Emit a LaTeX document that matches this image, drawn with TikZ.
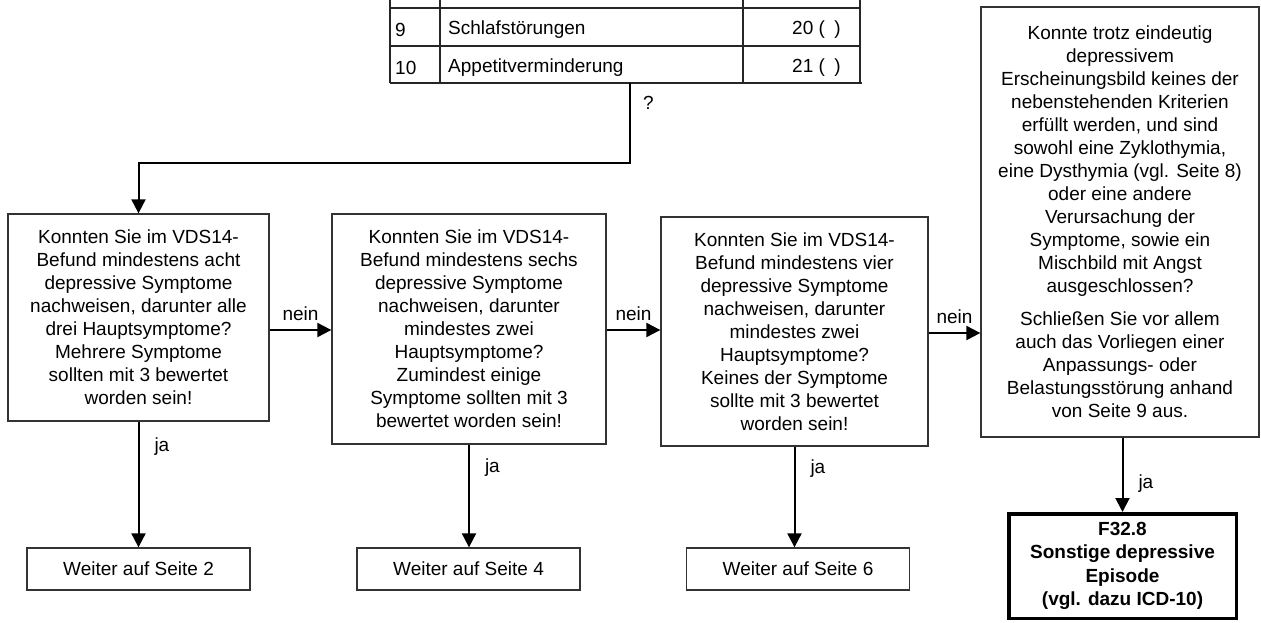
\documentclass[tikz,border=0pt]{standalone}
\usepackage{fontspec}
\setmainfont{Liberation Sans}
\usetikzlibrary{arrows.meta}
\begin{document}
\begin{tikzpicture}[x=1pt,y=-1pt,
  txt/.style={font=\fontsize{19}{23}\selectfont},
  qbox/.style={txt,draw=black!80,line width=1.3pt,align=center,inner sep=0pt},
  gobox/.style={txt,draw=black!80,line width=1.3pt,inner sep=0pt,minimum width=223pt,minimum height=42pt},
  endbox/.style={txt,draw=black,line width=3.5pt,align=center,inner sep=0pt,font=\fontsize{19}{23.3}\selectfont\bfseries},
  arr/.style={draw=black,line width=2pt,-{Triangle[length=14pt,width=14pt]}},
  lbl/.style={txt,inner sep=0pt},
  tline/.style={draw=black!85,line width=1.3pt}
]
\useasboundingbox (0,0) rectangle (1261,623);
% table
\draw[tline] (390,0) -- (390,83) (440,0) -- (440,83) (743,0) -- (743,83) (860,0) -- (860,83);
\draw[tline] (390,8) -- (860,8) (390,46) -- (860,46) (390,83) -- (862,83);
\node[lbl,anchor=west] (n9) at (395,29.5) {9};
\node[lbl,anchor=west] (t9) at (448,29.5) {Schlafstörungen};
\node[lbl,anchor=east] (v9) at (841,29.5) {20 (\,\,\,)};
\node[lbl,anchor=west] (n10) at (395,67.5) {10};
\node[lbl,anchor=west] (t10) at (448,67.5) {Appetitverminderung};
\node[lbl,anchor=east] (v10) at (841,67.5) {21 (\,\,\,)};
\coordinate (tabout) at (630,83);
% question boxes
\node[qbox,minimum width=261pt,minimum height=207pt] (b1) at (138.5,317.5) {Konnten Sie im VDS14-\\Befund mindestens acht\\depressive Symptome\\nachweisen, darunter alle\\drei Hauptsymptome?\\Mehrere Symptome\\sollten mit 3 bewertet\\worden sein!};
\node[qbox,minimum width=274pt,minimum height=230pt] (b2) at (469,329) {Konnten Sie im VDS14-\\Befund mindestens sechs\\depressive Symptome\\nachweisen, darunter\\mindestes zwei\\Hauptsymptome?\\Zumindest einige\\Symptome sollten mit 3\\bewertet worden sein!};
\node[qbox,minimum width=267pt,minimum height=229pt] (b3) at (794.5,331.5) {Konnten Sie im VDS14-\\Befund mindestens vier\\depressive Symptome\\nachweisen, darunter\\mindestes zwei\\Hauptsymptome?\\Keines der Symptome\\sollte mit 3 bewertet\\worden sein!};
\node[qbox,minimum width=278pt,minimum height=430pt] (b4) at (1120,222) {Konnte trotz eindeutig\\depressivem\\Erscheinungsbild keines der\\nebenstehenden Kriterien\\erfüllt werden, und sind\\sowohl eine Zyklothymia,\\eine Dysthymia (vgl. Seite 8)\\oder eine andere\\Verursachung der\\Symptome, sowie ein\\Mischbild mit Angst\\ausgeschlossen?\\[10pt]Schließen Sie vor allem\\auch das Vorliegen einer\\Anpassungs- oder\\Belastungsstörung anhand\\von Seite 9 aus.};
% result boxes
\node[gobox] (w1) at (138.5,569) {Weiter auf Seite 2};
\node[gobox] (w2) at (468.5,569) {Weiter auf Seite 4};
\node[gobox] (w3) at (798,569) {Weiter auf Seite 6};
\node[endbox,minimum width=227.5pt,minimum height=104.5pt] (f) at (1122.5,566) {F32.8\\Sonstige depressive\\Episode\\(vgl. dazu ICD-10)};
% connectors
\draw[arr] (tabout) -- node[lbl,pos=0.25,anchor=west,xshift=12pt]{?} (630,163) -| (b1.north);
\draw[arr] (b1.east |- {(0,330)}) -- node[lbl,above=8pt]{nein} (b2.west |- {(0,330)});
\draw[arr] (b2.east |- {(0,330)}) -- node[lbl,above=8pt]{nein} (b3.west |- {(0,330)});
\draw[arr] (b3.east |- {(0,333)}) -- node[lbl,above=8pt]{nein} (b4.west |- {(0,333)});
\draw[arr] (b1.south) -- node[lbl,pos=0.2,anchor=west,xshift=15pt]{ja} (b1.south |- w1.north);
\draw[arr] (b2.south) -- node[lbl,pos=0.22,anchor=west,xshift=15pt]{ja} (b2.south |- w2.north);
\draw[arr] (b3.south) -- node[lbl,pos=0.22,anchor=west,xshift=15pt]{ja} (b3.south |- w3.north);
\draw[arr] (b4.south -| f.north) -- node[lbl,pos=0.62,anchor=west,xshift=15pt]{ja} (f.north);
\end{tikzpicture}
\end{document}
